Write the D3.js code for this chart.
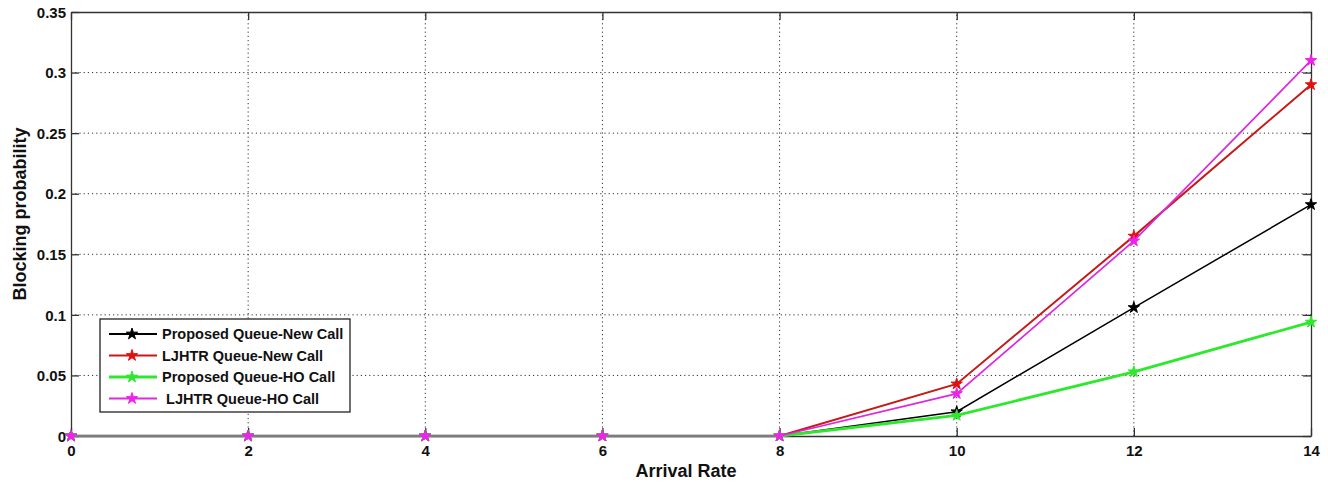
<!DOCTYPE html>
<html>
<head>
<meta charset="utf-8">
<script src="https://cdn.jsdelivr.net/npm/d3@7"></script>
<style>
  body { margin: 0; background: #fff; }
  text { font-family: "Liberation Sans", Arial, sans-serif; font-weight: bold; }
</style>
</head>
<body>
<script>
// data
var arrivalRate = [0, 2, 4, 6, 8, 10, 12, 14];
var proposedNew = [0, 0, 0, 0, 0, 0.020, 0.106, 0.191];
var ljhtrNew    = [0, 0, 0, 0, 0, 0.043, 0.165, 0.290];
var proposedHO  = [0, 0, 0, 0, 0, 0.017, 0.053, 0.094];
var ljhtrHO     = [0, 0, 0, 0, 0, 0.035, 0.161, 0.310];
var seriesNames = ["Proposed Queue-New Call", "LJHTR Queue-New Call", "Proposed Queue-HO Call", " LJHTR Queue-HO Call"];
var xTicks = [0, 2, 4, 6, 8, 10, 12, 14];
var yTicks = [0, 0.05, 0.1, 0.15, 0.2, 0.25, 0.3, 0.35];

var W = 1328, H = 482;
var m = {left: 71, right: 17, top: 12, bottom: 46};

var svg = d3.select("body").append("svg")
    .attr("width", W).attr("height", H);

var x = d3.scaleLinear().domain([0, 14]).range([m.left, W - m.right]);
var y = d3.scaleLinear().domain([0, 0.35]).range([H - m.bottom, m.top]);

// grid
svg.append("g").selectAll("line").data(xTicks.slice(1, -1)).enter().append("line")
    .attr("x1", d => x(d)).attr("x2", d => x(d))
    .attr("y1", y(0)).attr("y2", y(0.35))
    .attr("stroke", "#333").attr("stroke-width", 1).attr("stroke-dasharray", "1.2,3");
svg.append("g").selectAll("line").data(yTicks.slice(1, -1)).enter().append("line")
    .attr("x1", x(0)).attr("x2", x(14))
    .attr("y1", d => y(d)).attr("y2", d => y(d))
    .attr("stroke", "#333").attr("stroke-width", 1).attr("stroke-dasharray", "1.2,3");

// axes (ticks inward, MATLAB style)
var fmtY = d => d === 0 ? "0" : String(d);
var gx = svg.append("g").attr("transform", "translate(0," + y(0) + ")")
    .call(d3.axisBottom(x).tickValues(xTicks).tickSizeInner(-8).tickSizeOuter(0).tickPadding(12));
var gy = svg.append("g").attr("transform", "translate(" + x(0) + ",0)")
    .call(d3.axisLeft(y).tickValues(yTicks).tickFormat(fmtY).tickSizeInner(-8).tickSizeOuter(0).tickPadding(5));
var gx2 = svg.append("g").attr("transform", "translate(0," + y(0.35) + ")")
    .call(d3.axisTop(x).tickValues(xTicks).tickSizeInner(-8).tickSizeOuter(0).tickFormat(""));
var gy2 = svg.append("g").attr("transform", "translate(" + x(14) + ",0)")
    .call(d3.axisRight(y).tickValues(yTicks).tickSizeInner(-8).tickSizeOuter(0).tickFormat(""));
[gx, gy, gx2, gy2].forEach(function(g) {
  g.selectAll("path").attr("stroke", "#333").attr("stroke-width", 1.3);
  g.selectAll("line").attr("stroke", "#333").attr("stroke-width", 1.3);
  g.selectAll("text").attr("fill", "#111").style("font-size", "15px")
    .style("font-family", "'Liberation Sans', Arial, sans-serif").style("font-weight", "bold");
});
gx.selectAll("text").attr("dy", "0.55em");
gy.selectAll("text").attr("dy", "0.35em");

// series
var series = [
  {name: seriesNames[0], values: proposedNew, color: "#000000", width: 1.5},
  {name: seriesNames[1], values: ljhtrNew,    color: "#c81818", width: 2},
  {name: seriesNames[2], values: proposedHO,  color: "#2ee82e", width: 2.8},
  {name: seriesNames[3], values: ljhtrHO,     color: "#de28de", width: 1.7}
];
var markerColor = ["#000000", "#e01010", "#2ee82e", "#f020f0"];

var line = d3.line().x((d, i) => x(arrivalRate[i])).y(d => y(d));
var star = d3.symbol().type(d3.symbolStar).size(40);

series.forEach(function(s, k) {
  svg.append("path").datum(s.values)
      .attr("d", line)
      .attr("fill", "none").attr("stroke", s.color).attr("stroke-width", s.width);
  svg.append("g").selectAll("path").data(s.values).enter().append("path")
      .attr("d", star)
      .attr("transform", (d, i) => "translate(" + x(arrivalRate[i]) + "," + y(d) + ")")
      .attr("fill", markerColor[k]).attr("stroke", markerColor[k]).attr("stroke-width", 1);
});

// legend
var lg = svg.append("g");
lg.append("rect").attr("x", 100).attr("y", 319).attr("width", 250).attr("height", 93)
    .attr("fill", "#fff").attr("stroke", "#222").attr("stroke-width", 1.3);
series.forEach(function(s, k) {
  var ly = 334 + k * 21.5;
  lg.append("line").attr("x1", 109).attr("x2", 157).attr("y1", ly).attr("y2", ly)
      .attr("stroke", s.color).attr("stroke-width", Math.max(2.2, s.width));
  lg.append("path").attr("d", star).attr("transform", "translate(132," + ly + ")")
      .attr("fill", markerColor[k]).attr("stroke", markerColor[k]).attr("stroke-width", 1);
  lg.append("text").attr("x", 162).attr("y", ly).attr("dy", "0.35em")
      .style("font-size", "14.5px").attr("fill", "#111").attr("xml:space", "preserve")
      .text(s.name);
});

// axis titles
svg.append("text").attr("x", 686).attr("y", 477).attr("text-anchor", "middle")
    .style("font-size", "18px").attr("fill", "#111")
    .text("Arrival Rate");
svg.append("text").attr("transform", "translate(26,214) rotate(-90)").attr("text-anchor", "middle")
    .style("font-size", "18px").attr("fill", "#111")
    .text("Blocking probability");
</script>
</body>
</html>
